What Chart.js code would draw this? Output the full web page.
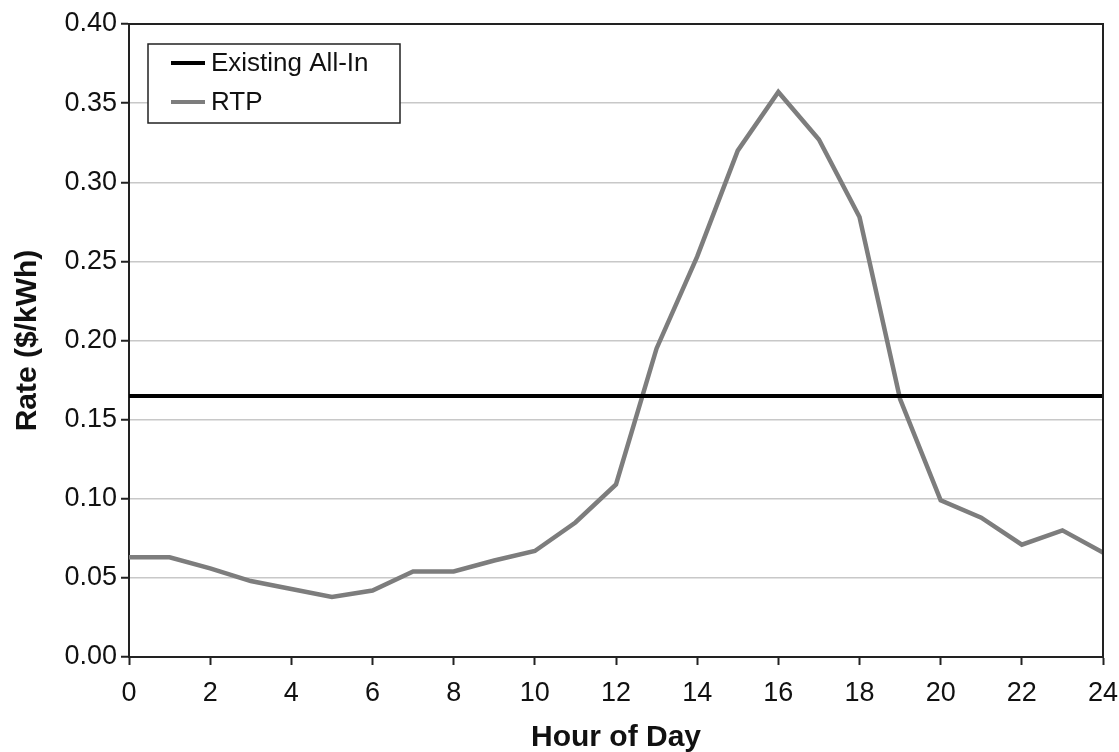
<!DOCTYPE html>
<html>
<head>
<meta charset="utf-8">
<script src="https://cdn.jsdelivr.net/npm/chart.js@4"></script>
<style>
  html, body { margin: 0; padding: 0; background: #fff; }
  #wrap { width: 1119px; height: 752px; }
</style>
</head>
<body>
<div id="wrap"><canvas id="chart" width="1119" height="752"></canvas></div>
<script>
// hours of the day
const hours = [0, 1, 2, 3, 4, 5, 6, 7, 8, 9, 10, 11, 12, 13, 14, 15, 16, 17, 18, 19, 20, 21, 22, 23, 24];
// real-time price, $/kWh
const rtp = [0.063, 0.063, 0.056, 0.048, 0.043, 0.038, 0.042, 0.054, 0.054, 0.061, 0.067, 0.085, 0.109,
             0.195, 0.253, 0.320, 0.357, 0.327, 0.278, 0.163, 0.099, 0.088, 0.071, 0.080, 0.066];
// flat existing rate
const existingRate = 0.165;
const xTicks = [0, 2, 4, 6, 8, 10, 12, 14, 16, 18, 20, 22, 24];
const yTicks = [0, 0.05, 0.10, 0.15, 0.20, 0.25, 0.30, 0.35, 0.40];

const FONT = 'Liberation Sans, Arial, sans-serif';

// box round the plot + legend drawn inside the plot
const framePlugin = {
  id: 'frame',
  afterDraw(chart) {
    const ctx = chart.ctx;
    const a = chart.chartArea;
    ctx.save();
    ctx.strokeStyle = '#222';
    ctx.lineWidth = 2;
    ctx.beginPath();
    ctx.moveTo(a.left, a.top);
    ctx.lineTo(a.right, a.top);
    ctx.lineTo(a.right, a.bottom);
    ctx.stroke();

    // legend
    const x0 = a.left + 19, y0 = a.top + 20, w = 252, h = 79;
    ctx.fillStyle = '#fff';
    ctx.fillRect(x0, y0, w, h);
    ctx.lineWidth = 1.5;
    ctx.strokeStyle = '#222';
    ctx.strokeRect(x0, y0, w, h);
    ctx.font = '26px ' + FONT;
    ctx.textBaseline = 'middle';
    chart.data.datasets.forEach((ds, i) => {
      const yy = y0 + 19 + i * 39;
      ctx.strokeStyle = ds.borderColor;
      ctx.lineWidth = 4;
      ctx.beginPath();
      ctx.moveTo(x0 + 23, yy);
      ctx.lineTo(x0 + 57, yy);
      ctx.stroke();
      ctx.fillStyle = '#111';
      ctx.fillText(ds.label, x0 + 63, yy + 1);
    });
    ctx.restore();
  }
};

new Chart(document.getElementById('chart'), {
  type: 'line',
  data: {
    datasets: [
      {
        label: 'Existing All-In',
        data: hours.map(h => ({ x: h, y: existingRate })),
        borderColor: '#000',
        borderWidth: 4,
        pointRadius: 0,
        tension: 0
      },
      {
        label: 'RTP',
        data: hours.map((h, i) => ({ x: h, y: rtp[i] })),
        borderColor: '#7d7d7d',
        borderWidth: 4.5,
        pointRadius: 0,
        tension: 0
      }
    ]
  },
  options: {
    responsive: false,
    animation: false,
    layout: { padding: { top: 24, right: 16, left: 0, bottom: 0 } },
    plugins: { legend: { display: false }, tooltip: { enabled: false } },
    scales: {
      x: {
        type: 'linear',
        min: 0,
        max: 24,
        afterBuildTicks: s => { s.ticks = xTicks.map(v => ({ value: v })); },
        afterFit: s => { s.height = 95; s.paddingLeft = 0; s.paddingRight = 0; },
        ticks: { color: '#111', font: { family: FONT, size: 27 }, padding: 12, maxRotation: 0 },
        grid: { drawOnChartArea: false, tickLength: 8, tickColor: '#222', tickWidth: 2 },
        border: { color: '#222', width: 2 },
        title: { display: true, text: 'Hour of Day', color: '#111', font: { family: FONT, size: 30, weight: 'bold' }, padding: { bottom: -4 } }
      },
      y: {
        min: 0,
        max: 0.4,
        afterBuildTicks: s => { s.ticks = yTicks.map(v => ({ value: v })); },
        afterFit: s => { s.width = 129; s.paddingTop = 0; s.paddingBottom = 0; },
        ticks: { color: '#111', font: { family: FONT, size: 27 }, padding: 4, callback: v => v.toFixed(2) },
        grid: { color: '#c8c8c8', lineWidth: 1.5, tickLength: 8, tickColor: '#222', tickWidth: 2 },
        border: { color: '#222', width: 2 },
        title: { display: true, text: 'Rate ($/kWh)', color: '#111', font: { family: FONT, size: 30, weight: 'bold' }, padding: { top: 10 } }
      }
    }
  },
  plugins: [framePlugin]
});
</script>
</body>
</html>
